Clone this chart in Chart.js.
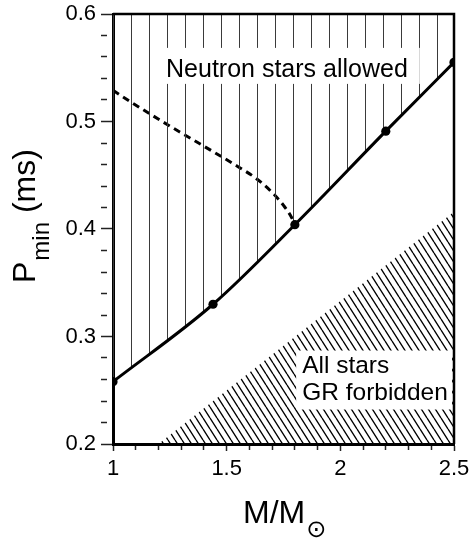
<!DOCTYPE html>
<html>
<head>
<meta charset="utf-8">
<script src="https://cdn.jsdelivr.net/npm/chart.js@4.4.1/dist/chart.umd.min.js"></script>
<style>
  html, body { margin: 0; padding: 0; background: #fff; }
  canvas { display: block; }
</style>
</head>
<body>
<canvas id="c" width="471" height="539"></canvas>
<script>
// ---- data ----
const markerMass = [1.0, 1.44, 1.80, 2.20, 2.50];
const markerPmin = [0.258, 0.330, 0.404, 0.491, 0.555];

const dashedMass = [1.00, 1.08, 1.24, 1.32, 1.40, 1.55, 1.63, 1.70, 1.75, 1.785, 1.80];
const dashedPmin = [0.529, 0.518, 0.497, 0.487, 0.477, 0.458, 0.447, 0.434, 0.422, 0.411, 0.404];

const grMass = [1.20, 2.50];
const grPmin = [0.200, 0.416];

const xTickValues = [1.0, 1.1, 1.2, 1.3, 1.4, 1.5, 1.6, 1.7, 1.8, 1.9, 2.0, 2.1, 2.2, 2.3, 2.4, 2.5];
const xMajorValues = [1, 1.5, 2, 2.5];
const xTickLabels = ['1', '1.5', '2', '2.5'];

const yTickValues = [0.20, 0.22, 0.24, 0.26, 0.28, 0.30, 0.32, 0.34, 0.36, 0.38, 0.40,
                     0.42, 0.44, 0.46, 0.48, 0.50, 0.52, 0.54, 0.56, 0.58, 0.60];
const yMajorValues = [0.2, 0.3, 0.4, 0.5, 0.6];
const yTickLabels = ['0.2', '0.3', '0.4', '0.5', '0.6'];

const regionLabels = ['Neutron stars allowed', 'All stars', 'GR forbidden'];
const axisTitleX = ['M/M', '\u2299'];
const axisTitleY = ['P', 'min', ' (ms)'];

// ---- helpers ----
function toPoints(xs, ys) { return xs.map((v, i) => ({ x: v, y: ys[i] })); }
function majorIndex(list, v) { return list.findIndex(m => Math.abs(m - v) < 1e-6); }

function verticalHatch() {
  const t = document.createElement('canvas');
  t.width = 18; t.height = 4;
  const c = t.getContext('2d');
  c.fillStyle = '#3a3a3a';
  c.fillRect(5, 0, 1, 4);
  return c.createPattern(t, 'repeat');
}
function diagonalHatch() {
  const w = 7, h = 11;
  const t = document.createElement('canvas');
  t.width = w; t.height = h;
  const c = t.getContext('2d');
  c.strokeStyle = '#000';
  c.lineWidth = 1.35;
  c.beginPath();
  for (const o of [-w, 0, w]) { c.moveTo(o, 0); c.lineTo(o + w, h); }
  c.stroke();
  return c.createPattern(t, 'repeat');
}

const FONT = '"Liberation Sans", Arial, sans-serif';

const overlay = {
  id: 'overlay',
  afterDatasetsDraw(chart) {
    const { ctx, scales: { x, y } } = chart;
    ctx.save();
    // "Neutron stars allowed" box
    ctx.font = '25px ' + FONT;
    ctx.textBaseline = 'alphabetic';
    const t0 = regionLabels[0];
    const w0 = ctx.measureText(t0).width;
    const cx0 = x.getPixelForValue(1.765);
    const by0 = y.getPixelForValue(0.5415);
    ctx.fillStyle = '#fff';
    ctx.fillRect(cx0 - w0 / 2 - 12, by0 - 29, w0 + 24, 36);
    ctx.fillStyle = '#000';
    ctx.textAlign = 'center';
    ctx.fillText(t0, cx0, by0);

    // "All stars / GR forbidden" box
    ctx.font = '24.5px ' + FONT;
    ctx.textAlign = 'left';
    const lx = x.getPixelForValue(1.832);
    const b1 = y.getPixelForValue(0.2665);
    ctx.fillStyle = '#fff';
    ctx.fillRect(lx - 6, b1 - 22, chart.chartArea.right - 2 - (lx - 6), 59);
    ctx.fillStyle = '#000';
    ctx.fillText(regionLabels[1], lx, b1);
    ctx.fillText(regionLabels[2], lx, b1 + 27);
    ctx.restore();
  },
  afterDraw(chart) {
    const { ctx, chartArea: a } = chart;
    ctx.save();
    // top and right frame
    ctx.strokeStyle = '#000';
    ctx.lineWidth = 2.5;
    ctx.beginPath();
    ctx.moveTo(a.left, a.top);
    ctx.lineTo(a.right, a.top);
    ctx.lineTo(a.right, a.bottom);
    ctx.stroke();

    // x title
    ctx.fillStyle = '#000';
    ctx.textAlign = 'left';
    ctx.textBaseline = 'alphabetic';
    ctx.font = '32px ' + FONT;
    const xStart = 243;
    ctx.fillText(axisTitleX[0], xStart, 523);
    const wM = ctx.measureText(axisTitleX[0]).width;
    ctx.font = '24px "DejaVu Sans"';
    ctx.fillText(axisTitleX[1], xStart + wM + 1, 537);

    // y title
    ctx.translate(35, 283);
    ctx.rotate(-Math.PI / 2);
    ctx.font = '32px ' + FONT;
    ctx.fillText(axisTitleY[0], 0, 0);
    let p = ctx.measureText(axisTitleY[0]).width + 1;
    ctx.font = '24px ' + FONT;
    ctx.fillText(axisTitleY[1], p, 14);
    p += ctx.measureText(axisTitleY[1]).width;
    ctx.font = '32px ' + FONT;
    ctx.fillText(axisTitleY[2], p, 0);
    ctx.restore();
  }
};

new Chart(document.getElementById('c').getContext('2d'), {
  type: 'scatter',
  data: {
    datasets: [
      {
        label: 'markers',
        data: toPoints(markerMass, markerPmin),
        showLine: false,
        pointRadius: 4.6,
        pointBackgroundColor: '#000',
        pointBorderWidth: 0,
        order: 0
      },
      {
        label: 'neutron star limit',
        data: toPoints(markerMass, markerPmin),
        showLine: true,
        borderColor: '#000',
        borderWidth: 3,
        pointRadius: 0,
        cubicInterpolationMode: 'monotone',
        fill: 'end',
        backgroundColor: verticalHatch(),
        order: 1
      },
      {
        label: 'dashed',
        data: toPoints(dashedMass, dashedPmin),
        showLine: true,
        borderColor: '#000',
        borderWidth: 3,
        borderDash: [7, 5],
        pointRadius: 0,
        cubicInterpolationMode: 'monotone',
        fill: false,
        order: 2
      },
      {
        label: 'GR forbidden',
        data: toPoints(grMass, grPmin),
        showLine: true,
        borderWidth: 0,
        borderColor: 'rgba(0,0,0,0)',
        pointRadius: 0,
        fill: 'start',
        backgroundColor: diagonalHatch(),
        order: 3
      }
    ]
  },
  options: {
    responsive: false,
    animation: false,
    events: [],
    layout: { padding: { top: 14, right: 17, left: 0, bottom: 0 } },
    plugins: { legend: { display: false }, tooltip: { enabled: false } },
    scales: {
      x: {
        type: 'linear',
        min: 1, max: 2.5,
        afterBuildTicks: s => { s.ticks = xTickValues.map(v => ({ value: v })); },
        afterFit: s => { s.height = 95; s.paddingLeft = 0; s.paddingRight = 0; },
        border: { display: true, width: 3, color: '#000' },
        grid: {
          drawOnChartArea: false,
          tickLength: 7,
          tickWidth: 1.5,
          tickColor: '#222',
          tickBorderDash: c => majorIndex(xMajorValues, c.tick.value) >= 0 ? [] : [4, 30]
        },
        ticks: {
          autoSkip: false,
          maxRotation: 0,
          padding: 5,
          color: '#000',
          font: { family: FONT, size: 22 },
          callback: v => { const i = majorIndex(xMajorValues, v); return i >= 0 ? xTickLabels[i] : ''; }
        }
      },
      y: {
        type: 'linear',
        min: 0.2, max: 0.6,
        afterBuildTicks: s => { s.ticks = yTickValues.map(v => ({ value: v })); },
        afterFit: s => { s.width = 113; s.paddingTop = 0; s.paddingBottom = 0; },
        border: { display: true, width: 3, color: '#000' },
        grid: {
          drawOnChartArea: false,
          tickLength: 12,
          tickWidth: 1.5,
          tickColor: '#222',
          tickBorderDash: c => majorIndex(yMajorValues, c.tick.value) >= 0 ? [] : [6, 30]
        },
        ticks: {
          autoSkip: false,
          padding: 5,
          color: '#000',
          font: { family: FONT, size: 22 },
          callback: v => { const i = majorIndex(yMajorValues, v); return i >= 0 ? yTickLabels[i] : ''; }
        }
      }
    }
  },
  plugins: [overlay]
});
</script>
</body>
</html>
